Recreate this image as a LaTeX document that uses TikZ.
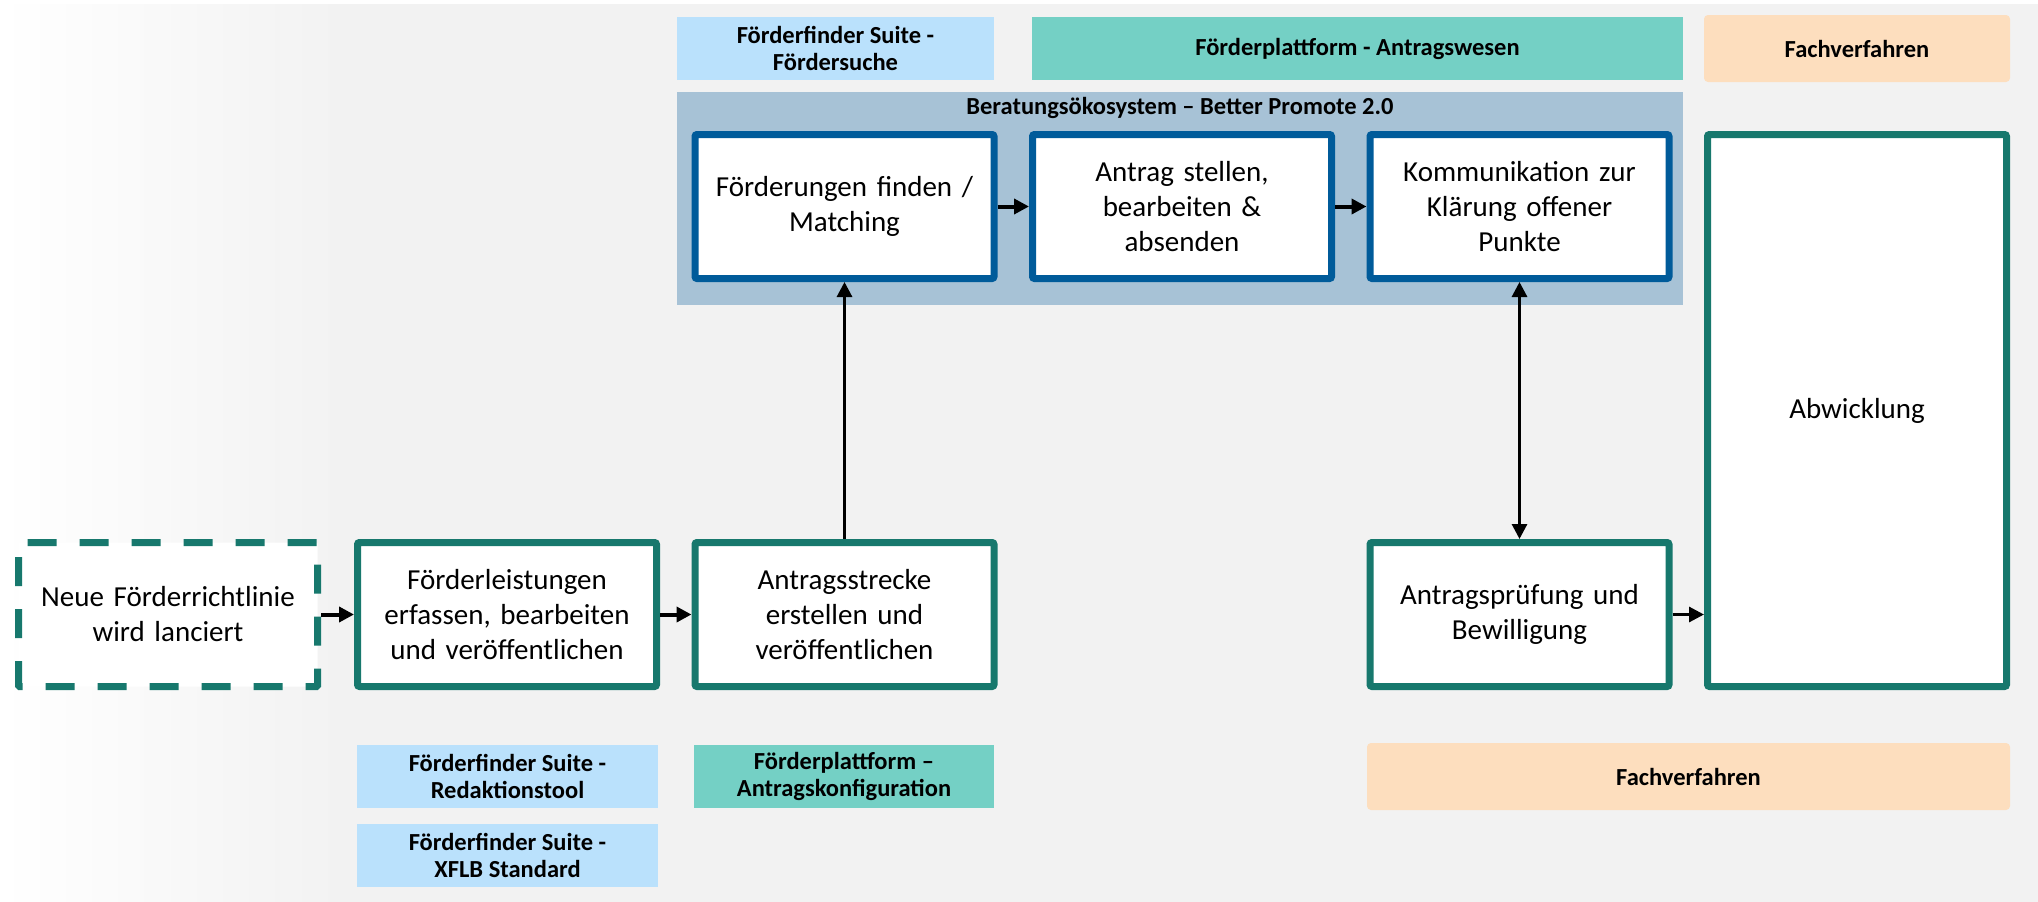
\documentclass[tikz,border=0pt]{standalone}
\usepackage{fontspec}
\setmainfont{Carlito}
\usetikzlibrary{arrows.meta}
\definecolor{bgg}{HTML}{F2F2F2}
\definecolor{grn}{HTML}{17786D}
\definecolor{blu}{HTML}{005B9A}
\definecolor{panelc}{HTML}{A7C2D6}
\definecolor{lblue}{HTML}{BAE1FC}
\definecolor{lteal}{HTML}{74D0C5}
\definecolor{peach}{HTML}{FDDEBE}
\begin{document}
\begin{tikzpicture}[x=1pt,y=-1pt,
  procbox/.style={draw=grn, line width=7pt, fill=white, minimum width=299pt, minimum height=144pt,
    inner sep=0pt, align=center, text width=290pt, rounded corners=2pt,
    font=\fontsize{29}{35}\selectfont},
  bluebox/.style={procbox, draw=blu},
  dashbox/.style={procbox, dash pattern=on 29pt off 23pt, rounded corners=1pt},
  tag/.style={inner sep=0pt, align=center, font=\bfseries\fontsize{24.5}{27}\selectfont},
  arr/.style={line width=4pt, -{Triangle[length=15pt,width=15pt]}},
  arrthin/.style={line width=3pt, -{Triangle[length=15pt,width=15pt]}},
  arrboth/.style={line width=3pt, {Triangle[length=15pt,width=15pt]}-{Triangle[length=15pt,width=15pt]}}
]
\useasboundingbox (0,0) rectangle (2038,902);
% background
\fill[white] (0,0) rectangle (2038,902);
\fill[bgg] (340,4) rectangle (2038,902);
\shade[left color=white, right color=bgg] (0,4) rectangle (340.5,902);

% top tags
\node[tag, fill=lblue, minimum width=317pt, minimum height=63pt] (t1) at (835.5,48.5) {Förderfinder Suite -\\Fördersuche};
\node[tag, fill=lteal, minimum width=651pt, minimum height=63pt] (t2) at (1357.5,48.5) {Förderplattform - Antragswesen};
\node[tag, fill=peach, minimum width=306pt, minimum height=67pt, rounded corners=4pt] (t3) at (1857,48.5) {Fachverfahren};

% panel
\node[fill=panelc, minimum width=1006pt, minimum height=213pt, inner sep=0pt] (panel) at (1180,198.5) {};
\node[tag] (ptitle) at (1180,108) {Beratungsökosystem – Better Promote 2.0};

% upper process boxes
\node[bluebox] (b1) at (844.5,206.5) {Förderungen finden /\\Matching};
\node[bluebox] (b2) at (1182,206.5) {Antrag stellen,\\bearbeiten \&\\absenden};
\node[bluebox] (b3) at (1519.5,206.5) {Kommunikation zur\\Klärung offener\\Punkte};

% lower process boxes
\node[dashbox] (n0) at (168,614.5) {Neue Förderrichtlinie\\wird lanciert};
\node[procbox] (n1) at (507,614.5) {Förderleistungen\\erfassen, bearbeiten\\und veröffentlichen};
\node[procbox] (n2) at (844.5,614.5) {Antragsstrecke\\erstellen und\\veröffentlichen};
\node[procbox] (n3) at (1519.5,614.5) {Antragsprüfung und\\Bewilligung};
\node[procbox, minimum height=552pt] (n4) at (1857,410.5) {Abwicklung};

% bottom tags
\node[tag, fill=lblue, minimum width=301pt, minimum height=63pt] (t4) at (507.5,776.5) {Förderfinder Suite -\\Redaktionstool};
\node[tag, fill=lteal, minimum width=300pt, minimum height=63pt] (t5) at (844,776.5) {Förderplattform –\\Antragskonfiguration};
\node[tag, fill=lblue, minimum width=301pt, minimum height=63pt] (t6) at (507.5,855.5) {Förderfinder Suite -\\XFLB Standard};
\node[tag, fill=peach, minimum width=643pt, minimum height=67pt, rounded corners=4pt] (t7) at (1688.5,776.5) {Fachverfahren};

% connectors
\draw[arr] (n0) -- (n1);
\draw[arr] (n1) -- (n2);
\draw[arrthin] (n2.north) -- (b1.south);
\draw[arr] (b1) -- (b2);
\draw[arr] (b2) -- (b3);
\draw[arrboth] (b3.south) -- (n3.north);
\draw[arrthin] (n3.east) -- (n3.east -| n4.west);
\end{tikzpicture}
\end{document}
